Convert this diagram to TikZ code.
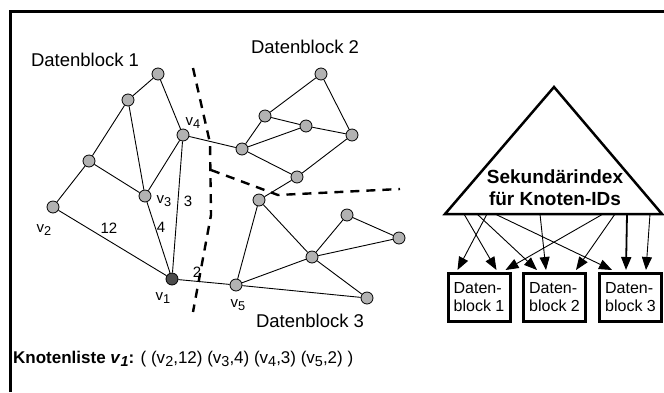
\documentclass[tikz,border=0pt]{standalone}
\usepackage{fontspec}
\setmainfont{Liberation Sans}
\usetikzlibrary{calc, shapes.geometric, arrows.meta}
\newcommand{\tief}[1]{\raisebox{-0.4ex}{\scalebox{0.85}{#1}}}

\begin{document}
\begin{tikzpicture}[x=1pt,y=-1pt,
  knot/.style={circle,draw,fill=black!30,minimum size=12pt,inner sep=0pt,line width=0.8pt},
  lbl/.style={font=\fontsize{15}{17}\selectfont,inner sep=0pt},
  titel/.style={font=\fontsize{18.5}{21}\selectfont,inner sep=0pt},
  grenze/.style={line width=2.4pt,dash pattern=on 9pt off 7pt},
  blk/.style={draw,line width=3pt,minimum width=62pt,minimum height=48pt,align=left,inner sep=0pt,font=\fontsize{16}{18}\selectfont},
  arr/.style={-{Triangle[length=13pt,width=10pt]},line width=0.9pt}]
\useasboundingbox (0,0) rectangle (664,392);
\draw[line width=3pt] (10,392) -- (10,11) -- (664,11);

% Datenblock 1
\node[knot] (a1) at (158,74) {};
\node[knot] (a2) at (128,100) {};
\node[knot] (a3) at (89,161) {};
\node[knot] (v4) at (183,135) {};
\node[knot] (v3) at (145,196) {};
\node[knot] (v2) at (53,207) {};
\node[knot,fill=black!70] (v1) at (172,279) {};
% Datenblock 2
\node[knot] (b1) at (321,74) {};
\node[knot] (b2) at (265,116) {};
\node[knot] (b3) at (306,126) {};
\node[knot] (b4) at (352,135) {};
\node[knot] (b5) at (242,149) {};
\node[knot] (b6) at (297,177) {};
% Datenblock 3
\node[knot] (c1) at (259,200) {};
\node[knot] (c2) at (312,257) {};
\node[knot] (c3) at (347,215) {};
\node[knot] (c4) at (399,238) {};
\node[knot] (c5) at (367,298) {};
\node[knot] (v5) at (236,285) {};

\foreach \s/\t in {a1/a2, a2/a3, a3/v2, a2/v3, a3/v3, a1/v4, v3/v4, v4/v1, v3/v1,
  v2/v1, v1/v5, v4/b5, b5/b2, b5/b3, b2/b3, b2/b1, b1/b4, b3/b4, b5/b6, b6/b4,
  b6/c1, c1/v5, c1/c2, v5/c2, v5/c5, c2/c5, c2/c3, c2/c4, c3/c4}
  \draw[line width=0.9pt] (\s) -- (\t);

% Grenzen
\draw[grenze] (193,68) -- (210,143) -- (211,215) -- (193,312);
\draw[grenze] (211,170) -- (278,195) -- (400,189);

% Beschriftungen
\node[lbl] (lv4) at (193,123) {v\tief{4}};
\node[lbl] (lv3) at (164,201) {v\tief{3}};
\node[lbl] (lv2) at (44,230) {v\tief{2}};
\node[lbl] (lv1) at (163,298) {v\tief{1}};
\node[lbl] (lv5) at (238,305) {v\tief{5}};
\node[lbl] (w12) at (109,228) {12};
\node[lbl] (w4) at (161,227) {4};
\node[lbl] (w3) at (188,201) {3};
\node[lbl] (w2) at (197,272) {2};
\node[titel] (t1) at (85,60) {Datenblock 1};
\node[titel] (t2) at (305,47) {Datenblock 2};
\node[titel] (t3) at (310,321) {Datenblock 3};
\node[anchor=base west,inner sep=0pt,font=\fontsize{17}{20}\selectfont] (liste) at (13,363)
  {\textbf{Knotenliste \textit{v}\tief{\textit{1}}:} ( (v\tief{2},12) (v\tief{3},4) (v\tief{4},3) (v\tief{5},2) )};

% Sekundaerindex
\draw[line width=2.5pt,line join=miter] (554,87) -- (662,214) -- (445,214) -- cycle;
\node[titel,font=\bfseries\fontsize{19}{22}\selectfont,align=center] (idx) at (555,188) {Sekundärindex\\für Knoten-IDs};
\node[blk] (blk1) at (479,297.5) {Daten-\\block 1};
\node[blk] (blk2) at (554.5,297.5) {Daten-\\block 2};
\node[blk] (blk3) at (630.5,297.5) {Daten-\\block 3};

\foreach \i/\x in {1/487, 2/464, 3/477, 4/495, 5/540, 6/603, 7/615, 8/627, 9/650}
  \coordinate (s\i) at (\x,214);
\foreach \i/\b/\d in {1/blk1/11, 2/blk1/50, 3/blk2/15, 4/blk3/14, 5/blk2/24, 6/blk1/59, 7/blk2/54, 9/blk3/48}
  \draw[arr] (s\i) -- ([xshift=\d pt,yshift=2pt]\b.north west);
\draw[arr,line width=1.8pt] (s8) -- ([xshift=28pt,yshift=2pt]blk3.north west);
\end{tikzpicture}
\end{document}
